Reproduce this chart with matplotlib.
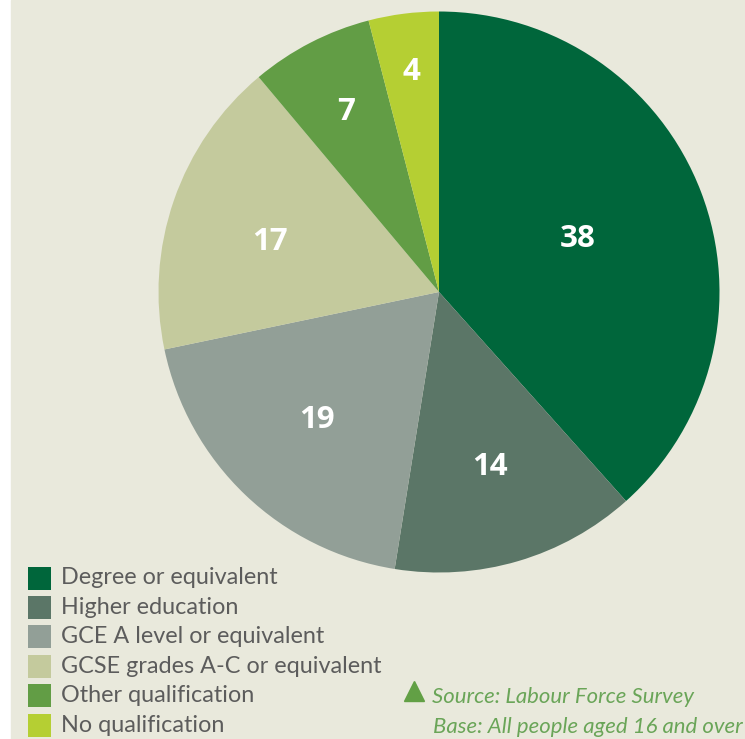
import matplotlib.pyplot as plt
from matplotlib.patches import Rectangle
import numpy as np

# Highest qualification held, people aged 16 and over (%)
categorias = ['Degree or equivalent', 'Higher education', 'GCE A level or equivalent',
              'GCSE grades A-C or equivalent', 'Other qualification', 'No qualification']
valores = [38, 14, 19, 17, 7, 4]
cores = ['#00663b', '#5b7667', '#929f97', '#c4ca9d', '#629d45', '#b5cf33']
fonte = ['Source: Labour Force Survey', 'Base: All people aged 16 and over']

fundo = '#e9e9dc'
verde_texto = '#6aa558'

fig = plt.figure(figsize=(7.45, 7.39), dpi=100)
fig.patch.set_facecolor('white')
ax = fig.add_axes([0, 0, 1, 1])

# faixa de fundo bege
ax.add_patch(Rectangle((11, 0), 745, 739, color=fundo, zorder=0))

wedges, _ = ax.pie(valores, colors=cores, startangle=90, counterclock=False,
                   center=(439, 447), radius=280.5, frame=True,
                   wedgeprops=dict(linewidth=0))
ax.set_xlim(0, 745)
ax.set_ylim(0, 739)
ax.set_aspect('equal')
ax.axis('off')

# posicao dos rotulos dentro de cada fatia
dist_rotulo = [0.53, 0.65, 0.63, 0.63, 0.72, 0.79]
desvio_ang = [0, 0, 0, 2.5, 0, 0]
for w, v, d, da in zip(wedges, valores, dist_rotulo, desvio_ang):
    ang = np.deg2rad((w.theta1 + w.theta2) / 2 + da)
    x = 439 + d * 280.5 * np.cos(ang)
    y = 447 + d * 280.5 * np.sin(ang)
    ax.text(x, y, str(v), color='white', fontsize=22.5, fontweight='bold',
            family='Open Sans', ha='center', va='center')

# legenda
for i, (cat, cor) in enumerate(zip(categorias, cores)):
    yc = 739 - (578 + i * 29.4)
    ax.add_patch(Rectangle((28, yc - 11.5), 23, 23, color=cor, linewidth=0))
    ax.text(61, yc, cat, color='#5c5c5c', fontsize=16.8, family='Lato',
            ha='left', va='center')

ax.plot([413.5], [739 - 691], marker='^', markersize=15, color='#62a045', linestyle='none')
ax.text(432, 739 - 697, fonte[0], color=verde_texto, fontsize=15.9, family='Lato',
        style='italic', ha='left', va='center')
ax.text(433, 739 - 727, fonte[1], color=verde_texto, fontsize=15.9, family='Lato',
        style='italic', ha='left', va='center')

plt.savefig('out.png', dpi=100, facecolor=fig.get_facecolor())
